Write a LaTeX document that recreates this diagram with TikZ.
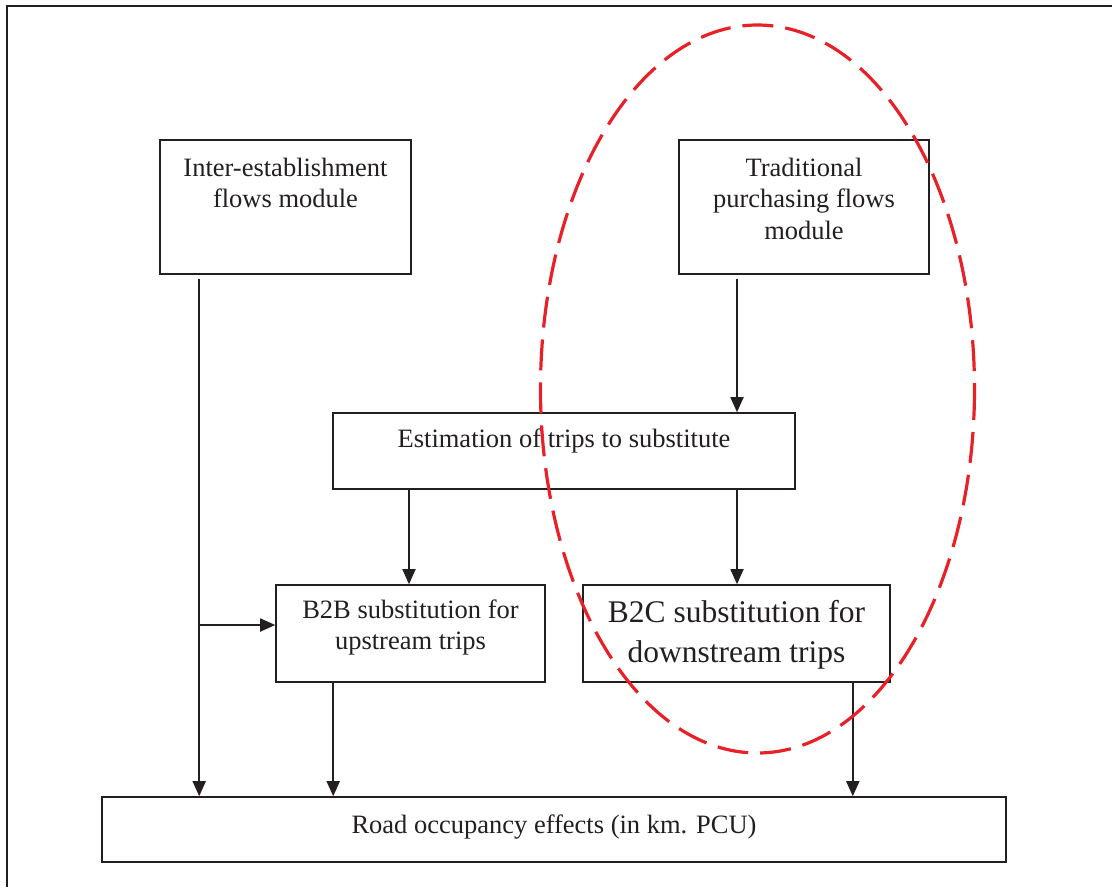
\documentclass[tikz,border=0pt]{standalone}
\usepackage{fontspec}
\setmainfont{Liberation Serif}
\usetikzlibrary{arrows.meta}
\definecolor{dashred}{RGB}{232,32,40}
\definecolor{ink}{RGB}{35,31,32}
\begin{document}
\begin{tikzpicture}[x=1pt,y=-1pt,
  box/.style={draw=ink, line width=1.6pt, inner sep=0pt},
  txt/.style={align=center, inner sep=0pt, text=ink, font=\fontsize{26.5}{31.5}\selectfont},
  bigtxt/.style={align=center, inner sep=0pt, text=ink, font=\fontsize{31.5}{40}\selectfont},
  arr/.style={draw=ink, line width=1.8pt, -{Triangle[length=15pt,width=13pt]}},
  frame/.style={draw=ink, line width=2pt}]
\useasboundingbox (0,0) rectangle (1112,887);
\draw[frame] (7,887) -- (7,6) -- (1112,6);
% boxes
\node[box, minimum width=251pt, minimum height=134pt] (inter) at (285.5,207) {};
\node[txt] (intert) at (285.5,183) {Inter-establishment\\flows module};
\node[box, minimum width=250pt, minimum height=134pt] (trad) at (804,207) {};
\node[txt] (tradt) at (804,198.5) {Traditional\\purchasing flows\\module};
\node[box, minimum width=462pt, minimum height=76pt] (est) at (564,451) {};
\node[txt] (estt) at (564,441) {Estimation of trips to substitute};
\node[box, minimum width=269pt, minimum height=97pt] (b2b) at (410.5,633.5) {};
\node[txt] (b2bt) at (410.5,627.5) {B2B substitution for\\upstream trips};
\node[box, minimum width=307pt, minimum height=97pt] (b2c) at (736.5,633.5) {};
\node[bigtxt] (b2ct) at (736.5,635) {B2C substitution for\\downstream trips};
\node[box, minimum width=904pt, minimum height=65pt] (road) at (554,829.5) {};
\node[txt] (roadt) at (554,827) {Road occupancy effects (in km. PCU)};
% connectors
\coordinate (j) at (200,625);
\draw[arr] ([xshift=40pt,yshift=-4pt]inter.south west) -- ([xshift=40pt]inter.south west |- road.north);
\draw[arr] (j) -- (j -| b2b.west);
\draw[arr] ([xshift=-67pt,yshift=-4pt]trad.south) -- ([xshift=-67pt]trad.south |- est.north);
\draw[arr] ([xshift=-1.5pt]b2b.north |- est.south) -- ([xshift=-1.5pt]b2b.north);
\draw[arr] ([xshift=0.5pt]b2c.north |- est.south) -- ([xshift=0.5pt]b2c.north);
\draw[arr] ([xshift=58pt]b2b.south west) -- ([xshift=58pt]b2b.south west |- road.north);
\draw[arr] ([xshift=-38pt]b2c.south east) -- ([xshift=-38pt]b2c.south east |- road.north);
% ellipse
\draw[dashred, line width=3.2pt, dash pattern=on 31pt off 12pt] (757.5,389) ellipse [x radius=217, y radius=364];
\end{tikzpicture}
\end{document}
